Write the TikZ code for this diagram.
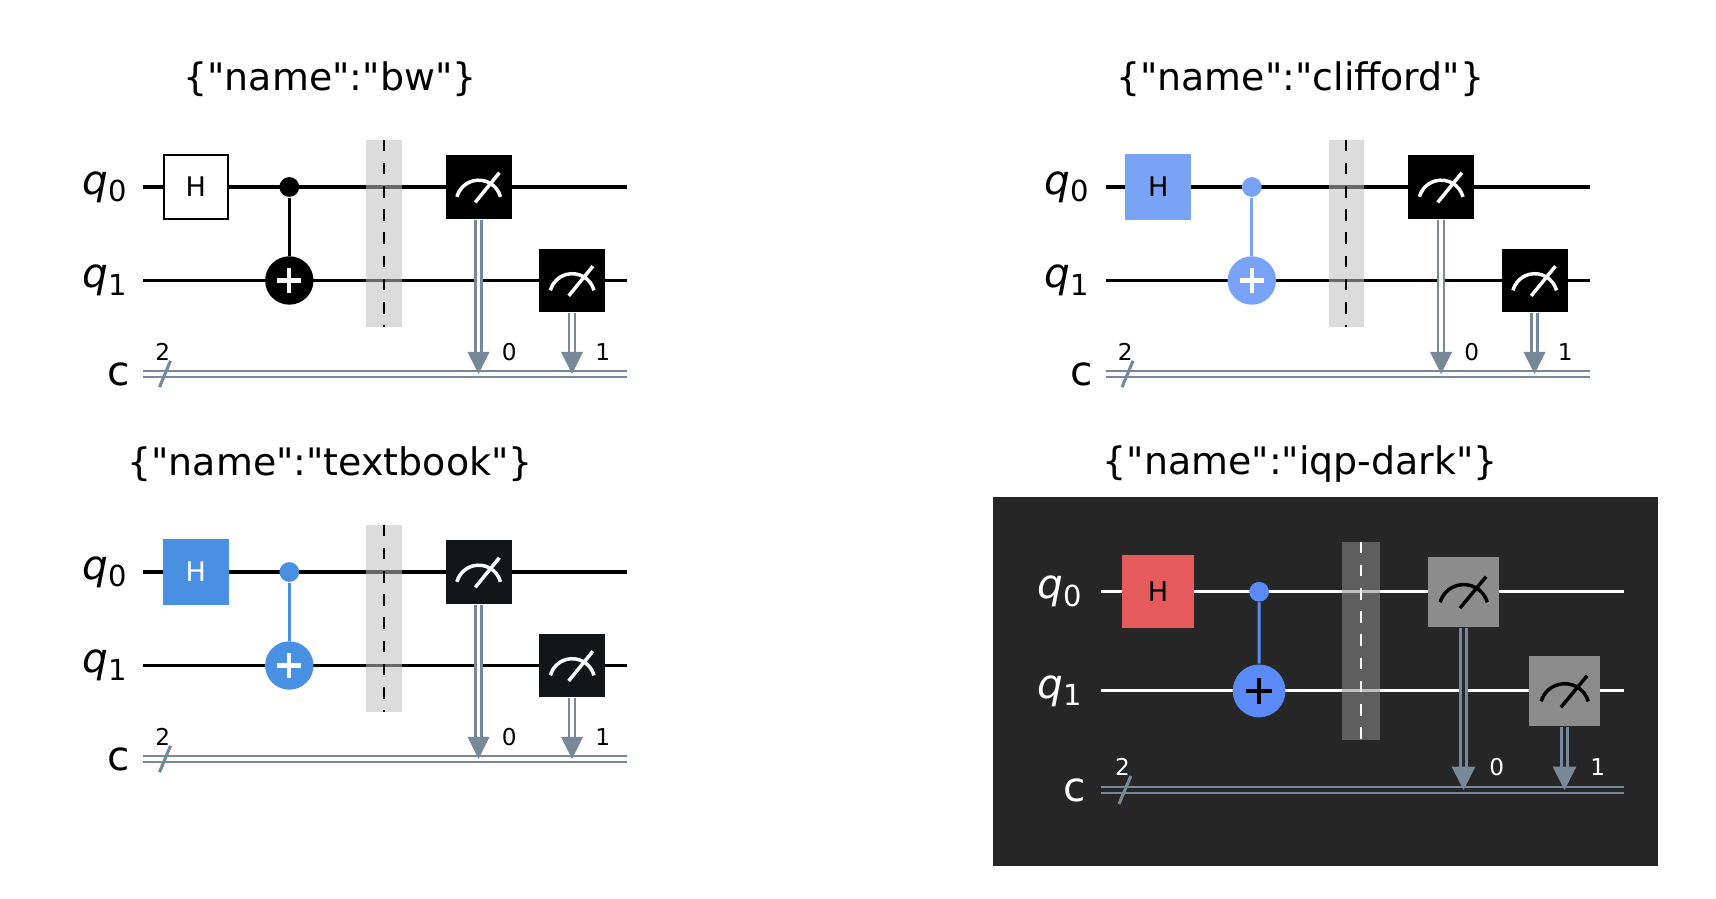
\documentclass[tikz,border=0pt]{standalone}
\usepackage{fontspec}
\setmainfont{DejaVu Sans}
\usetikzlibrary{calc}

\tikzset{
  qwire/.style={draw=wcol, line width=0.8pt},
  cwire/.style={draw=cgray, line width=0.65pt, double=bgcol, double distance=0.85pt},
  hgate/.style={rectangle, draw=hdraw, fill=hcol, line width=0.6pt, minimum width=5.8mm, minimum height=5.8mm, inner sep=0pt, text=htxt, font=\fontsize{7}{8}\selectfont},
  mgate/.style={rectangle, fill=mcol, minimum width=6mm, minimum height=5.8mm, inner sep=0pt},
  tgate/.style={circle, fill=ccol, minimum size=4.4mm, inner sep=0pt},
  title/.style={font=\fontsize{9.8}{12}\selectfont},
  wlabel/.style={text=txtcol, font=\fontsize{10.5}{12}\selectfont},
  nlabel/.style={text=txtcol, font=\fontsize{6}{7}\selectfont}
}
\definecolor{cgray}{HTML}{778899}
\newcommand{\qq}{\textquotedbl}

% one circuit, #1 = name prefix
\newcommand{\qcirc}[1]{
  \coordinate (#1w0a) at (0,0);   \coordinate (#1w0b) at (440,0);
  \coordinate (#1w1a) at (0,-85); \coordinate (#1w1b) at (440,-85);
  \coordinate (#1ca) at (0,-170); \coordinate (#1cb) at (440,-170);
  \draw[qwire] (#1w0a) -- (#1w0b);
  \draw[qwire] (#1w1a) -- (#1w1b);
  \draw[cwire] (#1ca) -- (#1cb);
  \node[wlabel] at (-35,0) {\itshape q\raisebox{-0.35ex}{\fontsize{7.5}{8}\selectfont\upshape 0}};
  \node[wlabel] at (-35,-85) {\itshape q\raisebox{-0.35ex}{\fontsize{7.5}{8}\selectfont\upshape 1}};
  \node[wlabel] at (-22,-170) {c};
  \coordinate (#1s1) at (15,-182); \coordinate (#1s2) at (25,-158);
  \draw[cgray, line width=0.8pt] (#1s1) -- (#1s2);
  \node[nlabel] at (18,-150) {2};
  % H and CNOT
  \node[hgate] (#1H) at (48,0) {H};
  \node[circle, fill=ccol, minimum size=1.8mm, inner sep=0pt] (#1ctl) at (133,0) {};
  \node[tgate] (#1tgt) at (133,-85) {};
  \draw[ccol, line width=0.8pt] (#1ctl) -- (#1tgt);
  \draw[pcol, line width=1.1pt] ($(#1tgt)+(-11,0)$) -- ($(#1tgt)+(11,0)$)
    ($(#1tgt)+(0,-11)$) -- ($(#1tgt)+(0,11)$);
  % barrier
  \fill[barcol, opacity=0.55] (203,43) rectangle (235,-127);
  \coordinate (#1b0) at (219,43); \coordinate (#1b1) at (219,-127);
  \draw[dashcol, dashed, line width=0.5pt] (#1b0) -- (#1b1);
  % measurements
  \foreach \mx/\my/\k in {305/0/0, 390/-85/1}{
    \node[mgate] (#1m\k) at (\mx,\my) {};
    \draw[symcol, line width=0.9pt] ($(#1m\k)+(20,-9)$) arc (15:165:2.05mm);
    \draw[symcol, line width=0.9pt] ($(#1m\k)+(-3,-14)$) -- ($(#1m\k)+(19,13)$);
    \coordinate (#1a\k) at (\mx,-170);
    \draw[cwire] (#1m\k.south) -- ($(#1a\k)+(0,18)$);
    \fill[cgray] (#1a\k) -- ++(-10,20) -- ++(20,0) -- cycle;
    \node[nlabel] at (\mx+28,-150) {\k};
  }
}

\begin{document}
\begin{tikzpicture}[x=0.1mm, y=0.1mm]
\useasboundingbox (0,0) rectangle (1560,-817);

% bw
\node[title] (t1) at (300,-72) {\{\qq name\qq:\qq bw\qq\}};
\begin{scope}[shift={(130,-170)}]
  \colorlet{wcol}{black}\colorlet{bgcol}{white}\colorlet{hcol}{white}\colorlet{hdraw}{black}
  \colorlet{htxt}{black}\colorlet{ccol}{black}\colorlet{pcol}{white}\colorlet{mcol}{black}
  \colorlet{symcol}{white}\colorlet{barcol}{black!25}\colorlet{dashcol}{black}\colorlet{txtcol}{black}
  \qcirc{bw}
\end{scope}

% clifford
\node[title] (t2) at (1182,-72) {\{\qq name\qq:\qq clifford\qq\}};
\begin{scope}[shift={(1005,-170)}]
  \colorlet{wcol}{black}\colorlet{bgcol}{white}\definecolor{hcol}{HTML}{78A3F7}\colorlet{hdraw}{hcol}
  \colorlet{htxt}{black}\colorlet{ccol}{hcol}\colorlet{pcol}{white}\colorlet{mcol}{black}
  \colorlet{symcol}{white}\colorlet{barcol}{black!25}\colorlet{dashcol}{black}\colorlet{txtcol}{black}
  \qcirc{cl}
\end{scope}

% textbook
\node[title] (t3) at (300,-422) {\{\qq name\qq:\qq textbook\qq\}};
\begin{scope}[shift={(130,-520)}]
  \colorlet{wcol}{black}\colorlet{bgcol}{white}\definecolor{hcol}{HTML}{4A90E2}\colorlet{hdraw}{hcol}
  \colorlet{htxt}{white}\colorlet{ccol}{hcol}\colorlet{pcol}{white}\definecolor{mcol}{HTML}{121619}
  \colorlet{symcol}{white}\colorlet{barcol}{black!25}\colorlet{dashcol}{black}\colorlet{txtcol}{black}
  \qcirc{tb}
\end{scope}

% iqp-dark
\node[title] (t4) at (1182,-422) {\{\qq name\qq:\qq iqp-dark\qq\}};
\definecolor{dbg}{HTML}{262626}
\fill[dbg] (903,-452) rectangle (1507,-787);
\begin{scope}[shift={(1001,-538)}, xscale=1.08, yscale=1.06,
    hgate/.append style={minimum width=6.4mm, minimum height=6.4mm},
    mgate/.append style={minimum width=6.4mm, minimum height=6.4mm},
    tgate/.append style={minimum size=4.8mm}]
  \colorlet{wcol}{white}\colorlet{bgcol}{dbg}\definecolor{hcol}{HTML}{E65A5D}\colorlet{hdraw}{hcol}
  \colorlet{htxt}{black}\definecolor{ccol}{HTML}{5A8AF5}\colorlet{pcol}{black}\definecolor{mcol}{HTML}{8C8C8C}
  \colorlet{symcol}{black}\colorlet{barcol}{white!55!black}\colorlet{dashcol}{white}\colorlet{txtcol}{white}
  \qcirc{iq}
\end{scope}
\end{tikzpicture}
\end{document}
